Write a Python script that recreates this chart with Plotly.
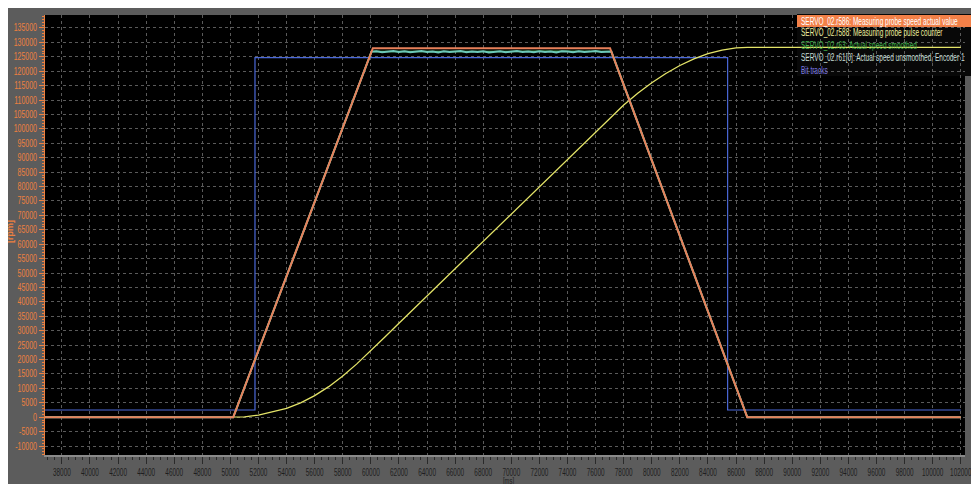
import plotly.graph_objects as go

# ---------------- data ----------------
# Measuring probe speed actual value (r586) [rpm]
speed_t = [36800, 50200, 60140, 77030, 86800, 102000]
speed_v = [0, 0, 128000, 128000, 0, 0]

# Measuring probe pulse counter (r588)
pulse_t = [36800, 50000, 51000, 52000, 53000, 54000, 55000, 56000, 57000, 58000,
           59000, 60000, 61000, 62000, 64000, 66000, 68000, 70000, 72000, 74000,
           76000, 77000, 78000, 79000, 80000, 81000, 82000, 83000, 84000, 85000,
           86000, 86800, 102000]
pulse_v = [0, 0, 150, 750, 1850, 3100, 5000, 7500, 10600, 14300,
           18500, 23000, 27800, 32600, 42100, 51600, 61100, 70600, 80100, 89600,
           99100, 103800, 108300, 112400, 116000, 119200, 122000, 124300, 126100, 127300,
           128100, 128300, 128300]

# Actual speed smoothed (r63)
smooth_t = [36800, 50200, 60047, 64000, 68000, 72000, 77122, 86800, 102000]
smooth_v = [0, 0, 126800, 126900, 126800, 126900, 126800, 0, 0]

# Actual speed unsmoothed, Encoder 1 (r61[0])
raw_t = [36800, 50200, 60047, 60400, 60800, 61200, 61600, 62000, 62400, 62800,
         63200, 63600, 64000, 64400, 64800, 65200, 65600, 66000, 66400, 66800,
         67200, 67600, 68000, 68400, 68800, 69200, 69600, 70000, 70400, 70800,
         71200, 71600, 72000, 72400, 72800, 73200, 73600, 74000, 74400, 74800,
         75200, 75600, 76000, 76400, 76800, 77122, 86800, 102000]
raw_v = [0, 0, 126800, 126900, 126600, 126800, 127000, 126700, 126900, 126600,
         126800, 127000, 126700, 126800, 126500, 126900, 126700, 126800, 127000, 126600,
         126800, 126700, 126900, 126500, 126800, 126900, 126600, 126800, 127000, 126700,
         126800, 126600, 126900, 126700, 126800, 126500, 126900, 126800, 126600, 126900,
         126700, 126800, 127000, 126700, 126800, 126800, 0, 0]

# Bit tracks
bit_t = [36800, 51750, 51750, 85400, 85400, 102000]
bit_v = [2500, 2500, 124700, 124700, 2500, 2500]

legend_labels = [
    "SERVO_02.r586: Measuring probe speed actual value",
    "SERVO_02.r588: Measuring probe pulse counter",
    "SERVO_02.r63: Actual speed smoothed",
    "SERVO_02.r61[0]: Actual speed unsmoothed, Encoder 1",
    "Bit tracks",
]
x_ticks = list(range(38000, 102001, 2000))
y_ticks = list(range(-10000, 135001, 5000))

# ---------------- styling ----------------
OFF = 8                      # page body margin
W, H = 979 - OFF, 484 - OFF
ML, MR, MT, MB = 37, 14, 7, 29
PW, PH = W - ML - MR, H - MT - MB
FONT = "Liberation Sans, Arial, sans-serif"
ORANGE_TXT = "#ec8040"

def px(x):
    return (x - OFF - ML) / PW

def py(y):
    return (H - MB - (y - OFF)) / PH

fig = go.Figure()
fig.add_trace(go.Scatter(x=bit_t, y=bit_v, mode="lines", line=dict(color="#4a68d8", width=1.2), name=legend_labels[4]))
fig.add_trace(go.Scatter(x=pulse_t, y=pulse_v, mode="lines", line=dict(color="#e4e468", width=1.3), name=legend_labels[1]))
fig.add_trace(go.Scatter(x=smooth_t, y=smooth_v, mode="lines", line=dict(color="#3fa84a", width=1.5), name=legend_labels[2]))
fig.add_trace(go.Scatter(x=raw_t, y=raw_v, mode="lines", line=dict(color="#6cc8b8", width=2), name=legend_labels[3]))
fig.add_trace(go.Scatter(x=speed_t, y=speed_v, mode="lines", line=dict(color="#e8805a", width=2), name=legend_labels[0]))

shapes = [
    dict(type="rect", xref="paper", yref="paper", x0=px(797), x1=px(976), y0=py(76), y1=py(14),
         fillcolor="#080808", line=dict(width=0), layer="below"),
    dict(type="rect", xref="paper", yref="paper", x0=px(797), x1=px(976), y0=py(27), y1=py(15),
         fillcolor="#f28048", line=dict(width=0), layer="above"),
]

leg_colors = ["#ffffff", "#ecec9c", "#3fb04a", "#c4dcd4", "#7a78e0"]
leg_y = [21, 33, 45.3, 57.7, 70]
annotations = []
for lab, col, yy in zip(legend_labels, leg_colors, leg_y):
    annotations.append(dict(text=lab, xref="paper", yref="paper", x=px(799), y=py(yy),
                            xanchor="left", yanchor="middle", align="left", showarrow=False,
                            font=dict(family=FONT, size=10, color=col)))
annotations.append(dict(text="[ms]", xref="paper", yref="paper", x=px(508), y=py(481),
                        xanchor="center", yanchor="middle", showarrow=False,
                        font=dict(family=FONT, size=9, color="#1e1e1e")))
annotations.append(dict(text="<b>[rpm]</b>", xref="paper", yref="paper", x=px(10), y=py(232),
                        xanchor="center", yanchor="middle", showarrow=False, textangle=-90,
                        font=dict(family=FONT, size=9, color=ORANGE_TXT)))

fig.update_layout(
    width=W, height=H,
    margin=dict(l=ML, r=MR, t=MT, b=MB, autoexpand=False),
    paper_bgcolor="#5c5c5c",
    plot_bgcolor="#000000",
    showlegend=False,
    shapes=shapes,
    annotations=annotations,
    xaxis=dict(
        range=[36800, 102300], tickvals=x_ticks, ticktext=[str(v) for v in x_ticks],
        tickangle=0, automargin=False, ticklabeloverflow="allow",
        showgrid=True, gridcolor="#5a5a5a", griddash="dot", gridwidth=1,
        zeroline=False, showline=True, linecolor="#8a8a8a", linewidth=2,
        ticks="outside", ticklen=7, tickcolor="#2a2a2a", tickwidth=1,
        minor=dict(dtick=500, tick0=0, ticks="outside", ticklen=3, tickcolor="#2a2a2a", showgrid=False),
        tickfont=dict(family=FONT, size=10, color="#1e1e1e"),
    ),
    yaxis=dict(
        range=[-13100, 139500], tickvals=y_ticks, ticktext=[str(v) for v in y_ticks],
        automargin=False,
        showgrid=True, gridcolor="#5a5a5a", griddash="dot", gridwidth=1,
        zeroline=False, showline=True, linecolor=ORANGE_TXT, linewidth=1,
        ticks="outside", ticklen=5, tickcolor=ORANGE_TXT, tickwidth=1,
        minor=dict(dtick=1000, tick0=0, ticks="outside", ticklen=2, tickcolor=ORANGE_TXT, showgrid=False),
        tickfont=dict(family=FONT, size=10, color=ORANGE_TXT),
    ),
)

# horizontally condense text (the reference uses a narrow UI font)
post_js = """
var gd = document.getElementById('{plot_id}');
function squeezeText(){
  var groups = [['text.annotation-text', 0.65], ['g.xtick > text', 0.64], ['g.ytick > text', 0.7]];
  groups.forEach(function(g){
    gd.querySelectorAll(g[0]).forEach(function(t){
      if (t.textContent === '[rpm]') return;
      if (t.getAttribute('data-sq') === '1') return;
      var L = t.getComputedTextLength();
      if (!L) return;
      t.setAttribute('textLength', (L * g[1]).toFixed(2));
      t.setAttribute('lengthAdjust', 'spacingAndGlyphs');
      t.setAttribute('data-sq', '1');
    });
  });
}
squeezeText();
gd.on('plotly_afterplot', squeezeText);
"""

fig.write_html("out.html", post_script=post_js)
